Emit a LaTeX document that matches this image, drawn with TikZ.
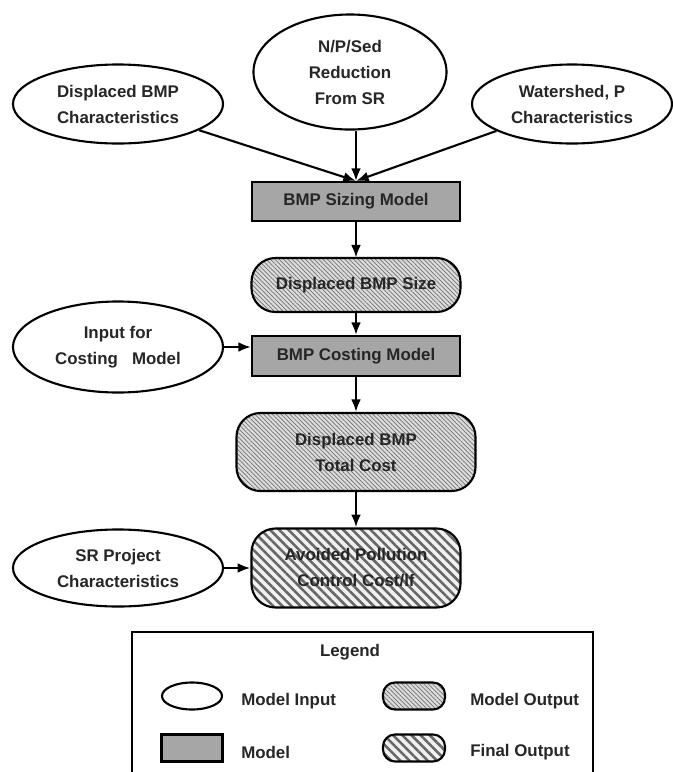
\documentclass[tikz,border=0pt]{standalone}
\usepackage{fontspec}
\setmainfont{Liberation Sans}
\usetikzlibrary{shapes.geometric,arrows.meta,patterns.meta}

\begin{document}
\begin{tikzpicture}[x=0.025cm, y=-0.025cm,
        every node/.style={font=\bfseries\fontsize{12}{18.5}\selectfont, text=black!85, align=center, inner sep=0pt},
        modelinput/.style={ellipse, draw, line width=1.5pt, fill=white},
        model/.style={rectangle, draw, line width=1.5pt, fill=black!35},
        modeloutput/.style={rectangle, rounded corners=0.6cm, draw, line width=1.5pt, preaction={fill=black!14}, pattern={Lines[angle=-45,distance=2.2pt,line width=0.5pt]}, pattern color=black!55},
        finaloutput/.style={rectangle, rounded corners=0.6cm, draw, line width=1.5pt, preaction={fill=black!6}, pattern={Lines[angle=-45,distance=4.6pt,line width=1.8pt]}, pattern color=black!60},
        arr/.style={-{Latex[length=9pt,width=7pt]}, line width=1.5pt}]
        \useasboundingbox (0,0) rectangle (673,772);

        \node[modelinput, minimum width=5.25cm, minimum height=1.975cm] (dispchar) at (118,104) {Displaced BMP\\Characteristics};
        \node[modelinput, minimum width=4.825cm, minimum height=2.875cm] (npsed) at (350,72) {N/P/Sed\\Reduction\\From SR};
        \node[modelinput, minimum width=5cm, minimum height=1.975cm] (wshed) at (572,104) {Watershed, P\\Characteristics};

        \node[model, minimum width=5.2cm, minimum height=0.975cm] (sizing) at (356,201.5) {BMP Sizing Model};
        \node[modeloutput, minimum width=5.225cm, minimum height=1.35cm] (size) at (356,285) {Displaced BMP Size};
        \node[modelinput, minimum width=5.25cm, minimum height=2.275cm] (costin) at (118,347) {Input for\\Costing~~~Model};
        \node[model, minimum width=5.2cm, minimum height=1cm] (costing) at (356,356) {BMP Costing Model};
        \node[modeloutput, minimum width=5.975cm, minimum height=1.95cm] (total) at (356,452) {Displaced BMP\\Total Cost};
        \node[modelinput, minimum width=5.25cm, minimum height=1.925cm] (srchar) at (118,568) {SR Project\\Characteristics};
        \node[finaloutput, minimum width=5.225cm, minimum height=1.975cm] (avoided) at (356,568) {Avoided Pollution\\Control Cost/lf};

        \draw[arr] (dispchar) -- (sizing.north);
        \draw[arr] (npsed.south -| sizing.north) -- (sizing.north);
        \draw[arr] (wshed) -- (sizing.north);
        \draw[arr] (sizing) -- (size);
        \draw[arr] (size) -- (costing);
        \draw[arr] (costin) -- (costin -| costing.west);
        \draw[arr] (costing) -- (total);
        \draw[arr] (total) -- (avoided);
        \draw[arr] (srchar) -- (avoided);

        \draw[line width=1.5pt] (132,772) -- (132,632) -- (593,632) -- (593,772);
        \node (legend) at (350,652) {Legend};
        \node[modelinput, minimum width=1.5cm, minimum height=0.675cm] (keyinput) at (192,696) {};
        \node[model, minimum width=1.525cm, minimum height=0.675cm] (keymodel) at (192,748) {};
        \node[modeloutput, rounded corners=0.3cm, minimum width=1.55cm, minimum height=0.675cm] (keyoutput) at (414,696) {};
        \node[finaloutput, rounded corners=0.3cm, minimum width=1.55cm, minimum height=0.675cm] (keyfinal) at (414,748) {};
        \node[anchor=west] (keyinputtext) at (241,701) {Model Input};
        \node[anchor=west] (keymodeltext) at (241,752) {Model};
        \node[anchor=west] (keyoutputtext) at (470,701) {Model Output};
        \node[anchor=west] (keyfinaltext) at (470,752) {Final Output};
    \end{tikzpicture}
\end{document}
